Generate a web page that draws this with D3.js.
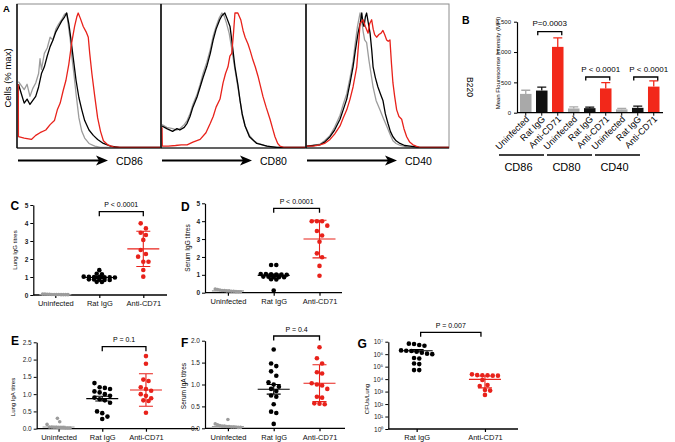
<!DOCTYPE html>
<html>
<head>
<meta charset="utf-8">
<script src="https://cdn.jsdelivr.net/npm/d3@7"></script>
<style>
body { margin: 0; background: #fff; }
svg { display: block; }
text { font-family: "Liberation Sans", Arial, Helvetica, sans-serif; }
</style>
</head>
<body>
<svg id="chart" width="675" height="442"></svg>
<script>
// ---- DATA ----

// panel A: flow histograms, [position along axis (% of box), cells (% max)]
const histGrey1 = [[1,49],[3,46],[5,43],[7,47],[9,38],[11,44],[13,48],[15,55],[16,66],[17,58],[19,70],[21,74],[23,82],[25,80],[27,88],[29,92],[31,95],[33,99],[34.5,100],[35.5,92],[37,80],[38,68],[39.5,55],[41,40],[43,22],[45,12],[47,7],[50,3],[54,1],[58,0],[100,0]];
const histBlack1 = [[1,47],[3,40],[5,33],[7,36],[9,32],[11,35],[13,38],[15,45],[17,55],[19,60],[21,68],[23,75],[25,80],[27,86],[29,90],[31,94],[33,97],[34.5,100],[36,92],[37.5,80],[39,67],[41,50],[43,37],[45,28],[47,20],[50,13],[53,9],[56,6],[60,3],[65,1],[71,0],[100,0]];
const histRed1 = [[0.9,47],[1,8],[5,7],[10,6],[13,9],[16,11],[20,13],[23,17],[26,20],[28,28],[30,33],[32,42],[34,50],[36,62],[38,78],[40,90],[41.5,97],[42.5,100],[44,96],[46,90],[48,86],[49.5,82],[50.5,70],[52,55],[54,38],[56,22],[58,12],[60,5],[63,2],[67,0.5],[72,0],[100,0]];

const histGrey2 = [[0.7,17],[4,15],[8,14],[11,13],[13,14],[16,17],[18,20],[20,25],[22,32],[25,40],[27,47],[29,55],[31.5,63],[34,73],[36,83],[38,90],[40,96],[42,100],[43.5,98],[45,93],[47,85],[49,72],[51,58],[53,45],[54.5,35],[56,24],[58,16],[61,9],[64,5],[67,3],[71,1.5],[76,0.5],[80,0],[100,0]];
const histBlack2 = [[0.7,16],[4,14],[8,12],[11,14],[13,13],[16,15],[18,18],[20,23],[22,30],[25,38],[27,45],[29,52],[31.5,60],[34,70],[36,80],[38,88],[40.5,95],[42,98],[44,100],[45.5,96],[47.6,90],[49,78],[51,60],[53,47],[54.5,35],[56,25],[58,16],[61,8],[64,5],[66,3],[70,2],[73,1],[80,0],[100,0]];
const histRed2 = [[0.7,15],[0.9,1],[5,1],[10,1.5],[14,2],[18,2],[22,4],[27,6],[31,11],[34,18],[36,23],[38,30],[40.7,36],[42.8,48],[44.5,55],[46.2,60],[47.5,68],[48.8,70],[50,85],[51,100],[53,100],[55,95],[56.6,87],[58,82],[60,77],[61.5,72],[63.4,65],[65,60],[66.9,53],[68.5,46],[70.3,38],[72.5,30],[75.2,21],[77,14],[78.6,8],[80.5,3],[82.1,1],[85,0],[100,0]];

const histGrey3 = [[0.5,1],[5,1.5],[9.8,2.5],[13,5],[16.8,9],[20,15],[23.8,24],[26,32],[28.5,40],[30.8,52],[32.9,64],[34.5,78],[36,90],[37.8,100],[39,94],[40,86],[41,80],[42.4,78],[44,65],[46.9,45],[49,35],[51.7,28],[54,22],[56.4,16],[58.7,10],[60.8,5],[63,3],[66,1.5],[70.4,0.5],[75,0],[100,0]];
const histBlack3 = [[0.5,1],[5,1.5],[9.8,2],[13,4],[16.8,8],[20,13],[23.8,21],[26,28],[28.5,36],[30.8,48],[32.9,60],[34.5,72],[36.4,85],[38,93],[39,100],[39.9,92],[40.6,90],[41.5,97],[42.4,100],[43.5,93],[44.8,85],[46,72],[46.9,60],[48.5,52],[50.3,45],[52,40],[53.8,35],[55.5,25],[57.3,18],[59,12],[60.8,8],[63,5],[65.7,3],[69,1.5],[72.7,1],[79.7,0],[100,0]];
const histRed3 = [[0.5,1],[5,1],[9.8,2],[13,3],[16.8,6],[20,10],[23.8,16],[26,22],[28.5,28],[30.8,36],[32.9,45],[35.5,60],[37,80],[37.8,92],[39.9,95],[41.5,90],[43.4,85],[44.5,92],[45.9,95],[47,88],[48,84],[49.4,82],[51,84],[52.5,85],[53.8,87],[55,84],[56.4,80],[57.5,79],[58.7,80],[59.8,62],[60.8,48],[62,38],[63.4,28],[65,23],[66.9,21],[68.5,14],[70.4,8],[72.5,4],[74.8,2],[77,1],[79.7,0],[100,0]];

const histMarkers = ['CD86', 'CD80', 'CD40'];

// panel B: MFI bars
const treatments = ['Uninfected', 'Rat IgG', 'Anti-CD71'];
const mfiMean = [310, 365, 1085, 70, 75, 400, 55, 80, 430];
const mfiErr = [60, 55, 150, 25, 18, 95, 15, 30, 95];
const mfiTicks = [0, 500, 1000, 1500];
const mfiPvals = ['P=0.0003', 'P < 0.0001', 'P < 0.0001'];

// panels C-F: titres per group (Uninfected, Rat IgG, Anti-CD71)
const cUninf = [0.03,0.02,0.04,0.02,0.05,0.03,0.02,0.04,0.03,0.02,0.05,0.03];
const cRat = [1.38,1.18,1.15,1.02,1.01,1.0,1.0,0.99,0.98,0.97,0.87,0.86,0.85,0.84,0.83,0.73,0.72];
const cAnti = [3.98,3.7,3.46,3.33,3.06,2.5,2.28,2.13,1.85,1.85,1.39,1.02];
const cMean = [0.02, 0.97, 2.56];
const cErr = [0, 0.05, 0.98];

const dUninf = [0.05,0.08,0.1,0.12,0.15,0.2,0.1,0.08,0.05,0.18,0.12,0.06];
const dRat = [1.55,1.55,1.05,1.04,1.03,1.02,1.01,1.0,0.9,0.89,0.88,0.87,0.86,0.75,0.74,0.12];
const dAnti = [4.0,4.0,4.0,3.75,3.45,3.2,2.85,2.2,1.98,1.5,0.95];
const dMean = [0.1, 0.97, 3.0];
const dErr = [0.02, 0.07, 1.05];

const eUninf = [0.02,0.03,0.05,0.02,0.04,0.125,0.3,0.2,0.03,0.02,0.05,0.04,0.03];
const eRat = [1.32,1.18,1.2,1.15,1.08,1.05,1.0,0.95,0.9,0.85,0.82,0.75,0.5,0.45,0.35,0.28];
const eAnti = [2.1,1.88,1.42,1.38,1.2,1.15,1.1,1.0,0.95,0.88,0.82,0.8,0.46];
const eMean = [0.05, 0.87, 1.12];
const eErr = [0.02, 0.07, 0.47];

const fUninf = [0.02,0.03,0.05,0.04,0.2,0.08,0.06,0.03,0.02,0.05,0.04,0.1,0.03];
const fRat = [1.8,1.48,1.42,1.3,1.2,1.05,1.0,0.95,0.9,0.85,0.75,0.72,0.55,0.38,0.35,0.1];
const fAnti = [1.85,1.6,1.48,1.28,1.25,1.03,1.0,0.98,0.9,0.72,0.7,0.57,0.56,0.55];
const fMean = [0.04, 0.89, 1.03];
const fErr = [0.01, 0.11, 0.42];

// panel G: CFU per lung
const gRat = [7e6,5.5e6,4.8e6,6.6e6,2e6,1.9e6,1.8e6,1.6e6,1.3e6,1.1e6,1e6,5e5,4.5e5,1.8e5,1.6e5,5.3e4,5.3e4];
const gAnti = [2.1e4,2.0e4,1.9e4,1.9e4,2.0e4,2.4e4,8.5e3,3.4e3,1.35e3,2.8e3,1.2e3,5.4e2];
const gMean = [1.9e6, 9.5e3];
const gLo = [1.55e6, 2.0e3];
const gHi = [2.3e6, 1.8e4];
const gTicks = [1, 10, 100, 1e3, 1e4, 1e5, 1e6, 1e7];

const GREY = '#9c9c9c', BLACK = '#000', RED = '#e8221b';
const catColor = {'Uninfected': GREY, 'Rat IgG': BLACK, 'Anti-CD71': RED};

const svg = d3.select('#chart');

function letter(t, x, y, fs) {
    svg.append('text').attr('x', x).attr('y', y).text(t)
        .style('font-size', fs + 'px').style('font-weight', 'bold');
}

// ---- PANEL A ----
letter('A', 3, 12, 9.5);
svg.append('text').attr('transform', 'translate(11,78) rotate(-90)')
    .attr('text-anchor', 'middle').style('font-size', '9.5px').text('Cells (% max)');

const boxes = [[17, 161], [161, 306], [306, 449]];
const histSets = [[histGrey1, histBlack1, histRed1], [histGrey2, histBlack2, histRed2], [histGrey3, histBlack3, histRed3]];
const histColors = [GREY, BLACK, RED];
const histY = d3.scaleLinear().domain([0, 100]).range([147.5, 13]);

boxes.forEach(function(b, i) {
    const hx = d3.scaleLinear().domain([0, 100]).range(b);
    const line = d3.line().x(d => hx(d[0])).y(d => histY(d[1]));
    svg.append('clipPath').attr('id', 'clip' + i)
        .append('rect').attr('x', b[0]).attr('y', 4).attr('width', b[1] - b[0]).attr('height', 144);
    svg.append('rect').attr('x', b[0]).attr('y', 4).attr('width', b[1] - b[0]).attr('height', 144)
        .attr('fill', 'none').attr('stroke', '#8c8c8c').attr('stroke-width', 1);
    const g = svg.append('g').attr('clip-path', 'url(#clip' + i + ')');
    histSets[i].forEach(function(d, j) {
        g.append('path').attr('d', line(d)).attr('fill', 'none')
            .attr('stroke', histColors[j]).attr('stroke-width', 1.3).attr('stroke-linejoin', 'round');
    });
    svg.append('line').attr('x1', b[0]).attr('x2', b[0]).attr('y1', 4).attr('y2', 148)
        .attr('stroke', '#000').attr('stroke-width', 1.4);
    svg.append('line').attr('x1', b[0]).attr('x2', b[1]).attr('y1', 148).attr('y2', 148)
        .attr('stroke', '#000').attr('stroke-width', 1.2);

    // arrow + marker name
    const a0 = b[0] + 1, a1 = b[0] + 91, ay = 160.5;
    svg.append('line').attr('x1', a0).attr('x2', a1 - 6).attr('y1', ay).attr('y2', ay)
        .attr('stroke', '#000').attr('stroke-width', 2.2);
    svg.append('path').attr('d', `M${a1},${ay} L${a1 - 12},${ay - 5} L${a1 - 9},${ay} L${a1 - 12},${ay + 5} Z`)
        .attr('fill', '#000');
    svg.append('text').attr('x', b[0] + 99).attr('y', 164.5).style('font-size', '10.5px').text(histMarkers[i]);
});

// ---- PANEL B ----
letter('B', 462, 24, 10.5);
svg.append('text').attr('transform', 'translate(467,87) rotate(90)')
    .attr('text-anchor', 'middle').style('font-size', '8.5px').text('B220');
svg.append('text').attr('transform', 'translate(500,63) rotate(-90)')
    .attr('text-anchor', 'middle').style('font-size', '6px').text('Mean Flourescense Intensity (MFI)');

const bX = d3.scaleBand().domain(d3.range(mfiMean.length)).range([516.8, 662.7]).paddingInner(0.28).paddingOuter(0.2);
const bY = d3.scaleLinear().domain([0, 1500]).range([112.7, 21.7]);
const barColors = ['#a9a9a9', '#111', '#f2281a'];

const byAxis = svg.append('g').attr('transform', 'translate(517,0)')
    .call(d3.axisLeft(bY).tickValues(mfiTicks).tickSize(3).tickSizeOuter(0));
byAxis.selectAll('text').style('font-size', '6px').attr('fill', '#111');
byAxis.select('.domain').attr('stroke-width', 1.2);

svg.selectAll('.bar').data(mfiMean).join('rect')
    .attr('x', (d, i) => bX(i)).attr('width', bX.bandwidth())
    .attr('y', d => bY(d)).attr('height', d => bY(0) - bY(d))
    .attr('fill', (d, i) => barColors[i % 3]);

mfiMean.forEach(function(d, i) {
    const cx = bX(i) + bX.bandwidth() / 2;
    const col = barColors[i % 3];
    svg.append('path').attr('d', `M${cx},${bY(d)}V${bY(d + mfiErr[i])}M${cx - 4.5},${bY(d + mfiErr[i])}H${cx + 4.5}`)
        .attr('stroke', col).attr('stroke-width', 1.3).attr('fill', 'none');
});

const bxAxis = svg.append('g').attr('transform', `translate(0,${bY(0)})`)
    .call(d3.axisBottom(bX).tickSize(3).tickSizeOuter(0).tickFormat(i => treatments[i % 3]));
bxAxis.select('.domain').remove();
bxAxis.selectAll('text').attr('y', 0).attr('dy', 0)
    .attr('transform', 'translate(4,7) rotate(-45)').style('text-anchor', 'end')
    .style('font-size', '9px').attr('fill', '#000');
svg.append('line').attr('x1', 517).attr('x2', 663).attr('y1', bY(0)).attr('y2', bY(0))
    .attr('stroke', '#000').attr('stroke-width', 1.2);

histMarkers.forEach(function(m, k) {
    const l0 = bX(3 * k) - 21, l1 = bX(3 * k + 2) - 8;
    svg.append('line').attr('x1', l0).attr('x2', l1).attr('y1', 155).attr('y2', 155)
        .attr('stroke', '#000').attr('stroke-width', 1.6);
    svg.append('text').attr('x', (l0 + l1) / 2 - 3).attr('y', 170.5).attr('text-anchor', 'middle')
        .style('font-size', '11px').text(m);
});

const bBrackets = [[1, 2, 31.7], [4, 5, 77], [7, 8, 77]];
bBrackets.forEach(function(br, k) {
    const x0 = bX(br[0]) + bX.bandwidth() / 2 - 4, x1 = bX(br[1]) + bX.bandwidth() / 2 + 4;
    svg.append('path').attr('d', `M${x0},${br[2] + 3.5}V${br[2]}H${x1}V${br[2] + 3.5}`)
        .attr('fill', 'none').attr('stroke', '#000').attr('stroke-width', 1.3);
    svg.append('text').attr('x', (x0 + x1) / 2 + (k ? 3 : 0)).attr('y', br[2] - 5.5).attr('text-anchor', 'middle')
        .style('font-size', '8px').text(mfiPvals[k]);
});

// ---- PANELS C-G ----
const cats3 = treatments;
const sup = '⁰¹²³⁴⁵⁶⁷⁸⁹';

// prism-like scatter: points whose pixel heights are close share a row and are spread sideways
function swarm(vals, y, cx, rowH, gap) {
    const pts = vals.map(v => ({v: v, py: y(v)})).sort((a, b) => a.py - b.py);
    const rows = [];
    let cur = null;
    pts.forEach(function(p) {
        if (!cur || p.py - cur[0].py > rowH) { cur = [p]; rows.push(cur); }
        else cur.push(p);
    });
    rows.forEach(function(row) {
        row.forEach((p, i) => { p.px = cx + (i - (row.length - 1) / 2) * gap; });
    });
    return pts;
}

const scatterPanels = [
    {letter: 'C', lx: 10.5, ly: 210, title: 'Lung IgG titres', tx: 16.5, ty: 250, tfs: 6,
     y: d3.scaleLinear().domain([0, 5]).range([295, 205]), ticks: [0, 1, 2, 3, 4, 5], fmt: d3.format('d'), bold: true,
     x0: 33.3, x1: 167, cr: [33.3, 165.3], cats: cats3, data: [cUninf, cRat, cAnti], mean: cMean, err: cErr,
     rowH: [4, 2.5, 6], p: 'P < 0.0001', pa: 1, pb: 2, py: 211.7, inset: 0},
    {letter: 'D', lx: 181, ly: 210.7, title: 'Serum IgG titres', tx: 190, ty: 248, tfs: 6.5,
     y: d3.scaleLinear().domain([0, 5]).range([292.7, 203.3]), ticks: [0, 1, 2, 3, 4, 5], fmt: d3.format('d'), bold: true,
     x0: 205, x1: 342, cr: [205, 342.4], cats: cats3, data: [dUninf, dRat, dAnti], mean: dMean, err: dErr,
     rowH: [4, 2.5, 6], p: 'P < 0.0001', pa: 1, pb: 2, py: 208.3, inset: 0},
    {letter: 'E', lx: 11, ly: 345, title: 'Lung IgA titres', tx: 15, ty: 397, tfs: 6,
     y: d3.scaleLinear().domain([0, 2.5]).range([428.7, 342.3]), ticks: [0, 0.5, 1, 1.5, 2, 2.5], fmt: d3.format('.1f'), bold: false,
     x0: 36.7, x1: 198, cr: [36.7, 167.8], cats: cats3, data: [eUninf, eRat, eAnti], mean: eMean, err: eErr,
     rowH: [4, 6, 6], p: 'P = 0.1', pa: 1, pb: 2, py: 346.7, inset: 0},
    {letter: 'F', lx: 181, ly: 347.3, title: 'Serum IgA titres', tx: 186, ty: 386, tfs: 6.5,
     y: d3.scaleLinear().domain([0, 2]).range([428.3, 340.7]), ticks: [0, 0.5, 1, 1.5, 2], fmt: d3.format('.1f'), bold: false,
     x0: 205, x1: 345, cr: [205, 342.4], cats: cats3, data: [fUninf, fRat, fAnti], mean: fMean, err: fErr,
     rowH: [4, 6, 6], p: 'P = 0.4', pa: 1, pb: 2, py: 336, inset: 0},
    {letter: 'G', lx: 357.5, ly: 348.3, title: 'CFUs/Lung', tx: 368.5, ty: 399, tfs: 6,
     y: d3.scaleLog().domain([1, 1e7]).range([429, 341.7]), ticks: gTicks, fmt: d => '10' + sup[Math.round(Math.log10(d))], bold: false,
     x0: 388.3, x1: 518, cr: [382.5, 519.1], cats: ['Rat IgG', 'Anti-CD71'], data: [gRat, gAnti], mean: gMean, lo: gLo, hi: gHi,
     rowH: [5, 5], p: 'P = 0.007', pa: 0, pb: 1, py: 332.3, inset: 4}
];

scatterPanels.forEach(function(p) {
    const g = svg.append('g');
    const x = d3.scalePoint().domain(p.cats).range(p.cr).padding(0.5);
    const y0 = p.y.range()[0];

    letter(p.letter, p.lx, p.ly, 12);
    g.append('text').attr('transform', `translate(${p.tx},${p.ty}) rotate(-90)`)
        .attr('text-anchor', 'middle').style('font-size', p.tfs + 'px').text(p.title);

    const ya = g.append('g').attr('transform', `translate(${p.x0},0)`)
        .call(d3.axisLeft(p.y).tickValues(p.ticks).tickFormat(p.fmt).tickSize(3).tickSizeOuter(0).tickPadding(2));
    ya.select('.domain').attr('stroke-width', 1.2);
    ya.selectAll('line').attr('stroke-width', 1);
    ya.selectAll('text').style('font-size', '6.5px').style('font-weight', p.bold ? 'bold' : 'normal').attr('fill', '#222');

    const xa = g.append('g').attr('transform', `translate(0,${y0})`)
        .call(d3.axisBottom(x).tickSize(3).tickSizeOuter(0).tickPadding(3));
    xa.select('.domain').remove();
    xa.selectAll('line').attr('stroke-width', 1.2);
    xa.selectAll('text').style('font-size', '7.5px').attr('fill', '#111');
    g.append('line').attr('x1', p.x0).attr('x2', p.x1).attr('y1', y0).attr('y2', y0)
        .attr('stroke', '#000').attr('stroke-width', 1.3);

    p.cats.forEach(function(c, i) {
        const cx = x(c);
        const col = catColor[c];
        const grey = c === 'Uninfected';
        const r = grey ? 1.8 : 2.3;
        const pts = swarm(p.data[i], p.y, cx, p.rowH[i], grey ? 2.3 : 5.2);
        g.selectAll(null).data(pts).join('circle')
            .attr('cx', d => d.px).attr('cy', d => d.py).attr('r', r).attr('fill', col);

        const m = p.mean[i];
        const lo = p.lo ? p.lo[i] : m - p.err[i];
        const hi = p.hi ? p.hi[i] : m + p.err[i];
        g.append('line').attr('x1', cx - 16).attr('x2', cx + 16).attr('y1', p.y(m)).attr('y2', p.y(m))
            .attr('stroke', col).attr('stroke-width', 1.1);
        g.append('path').attr('d', `M${cx},${p.y(lo)}V${p.y(hi)}M${cx - 7},${p.y(lo)}H${cx + 7}M${cx - 7},${p.y(hi)}H${cx + 7}`)
            .attr('stroke', col).attr('stroke-width', 1.1).attr('fill', 'none');
    });

    const bx0 = x(p.cats[p.pa]) + p.inset, bx1 = x(p.cats[p.pb]) - p.inset;
    g.append('path').attr('d', `M${bx0},${p.py + 4.5}V${p.py}H${bx1}V${p.py + 4.5}`)
        .attr('fill', 'none').attr('stroke', '#000').attr('stroke-width', 1.3);
    g.append('text').attr('x', (bx0 + bx1) / 2).attr('y', p.py - 4.5).attr('text-anchor', 'middle')
        .style('font-size', '7px').text(p.p);
});
</script>
</body>
</html>
